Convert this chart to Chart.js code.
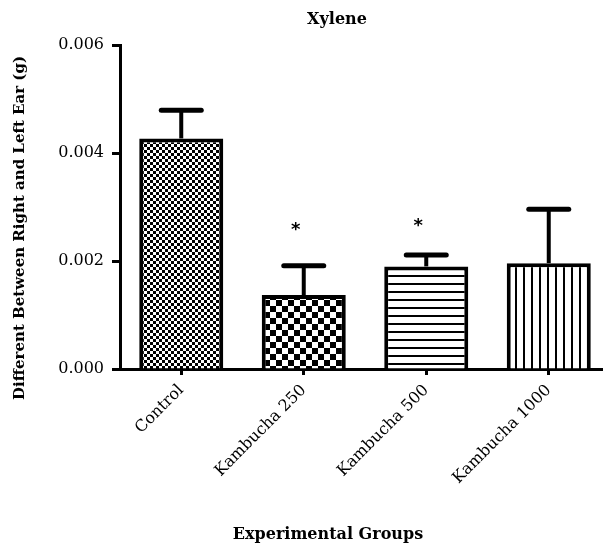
<!DOCTYPE html>
<html>
<head>
<meta charset="utf-8">
<script src="https://cdn.jsdelivr.net/npm/chart.js@4.4.0/dist/chart.umd.min.js"></script>
<style>
  html, body { margin: 0; padding: 0; background: #fff; overflow: hidden; }
  #wrap { width: 612px; height: 545px; }
</style>
</head>
<body>
<div id="wrap"><canvas id="chart" width="612" height="545"></canvas></div>
<script>
// data
const groups = ["Control", "Kambucha 250", "Kambucha 500", "Kambucha 1000"];
const means = [0.00427, 0.00137, 0.00190, 0.00196];
const errTops = [0.00479, 0.00191, 0.00211, 0.00296];
const starAt = [null, 0.00262, 0.00270, null];   // "*" marks
const yTicks = [0, 0.002, 0.004, 0.006];

const canvas = document.getElementById("chart");
const mainCtx = canvas.getContext("2d");

// hatch fills like the GraphPad bars
function makePattern(kind) {
    const c = document.createElement("canvas");
    const g = c.getContext("2d");
    if (kind === "fine") {
        c.width = c.height = 6;
        g.fillStyle = "#fff"; g.fillRect(0, 0, 6, 6);
        g.fillStyle = "#000"; g.fillRect(0, 0, 3, 3); g.fillRect(3, 3, 3, 3);
    } else if (kind === "coarse") {
        c.width = c.height = 12;
        g.fillStyle = "#fff"; g.fillRect(0, 0, 12, 12);
        g.fillStyle = "#000"; g.fillRect(0, 0, 6, 6); g.fillRect(6, 6, 6, 6);
    } else if (kind === "hlines") {
        c.width = 8; c.height = 8;
        g.fillStyle = "#fff"; g.fillRect(0, 0, 8, 8);
        g.fillStyle = "#000"; g.fillRect(0, 3, 8, 2);
    } else {
        c.width = 8; c.height = 8;
        g.fillStyle = "#fff"; g.fillRect(0, 0, 8, 8);
        g.fillStyle = "#000"; g.fillRect(3, 0, 2, 8);
    }
    return mainCtx.createPattern(c, "repeat");
}
const fills = [makePattern("fine"), makePattern("coarse"), makePattern("hlines"), makePattern("vlines")];

const serif = "'DejaVu Serif', serif";

// error bars (upper only) + significance stars
const errorBars = {
    id: "errorBars",
    afterDatasetsDraw(chart) {
        const ctx = chart.ctx;
        const y = chart.scales.y;
        const meta = chart.getDatasetMeta(0);
        ctx.save();
        ctx.strokeStyle = "#000";
        meta.data.forEach((bar, i) => {
            const top = y.getPixelForValue(errTops[i]);
            ctx.lineCap = "butt";
            ctx.lineWidth = 4;
            ctx.beginPath();
            ctx.moveTo(bar.x, bar.y);
            ctx.lineTo(bar.x, top);
            ctx.stroke();
            ctx.lineCap = "round";
            ctx.lineWidth = 5;
            ctx.beginPath();
            ctx.moveTo(bar.x - 20, top);
            ctx.lineTo(bar.x + 20, top);
            ctx.stroke();
            if (starAt[i] !== null) {
                ctx.fillStyle = "#000";
                ctx.font = "bold 18px 'DejaVu Sans'";
                ctx.textAlign = "center";
                ctx.textBaseline = "middle";
                ctx.fillText("*", bar.x - 8, y.getPixelForValue(starAt[i]) + 3);
            }
        });
        ctx.restore();
    }
};

// titles placed like the original figure
const titles = {
    id: "titles",
    afterDraw(chart) {
        const ctx = chart.ctx;
        ctx.save();
        ctx.fillStyle = "#000";
        ctx.textAlign = "center";
        ctx.textBaseline = "middle";
        ctx.font = "bold 16px " + serif;
        ctx.fillText("Xylene", 337, 20);
        ctx.fillText("Experimental Groups", 328, 535);
        ctx.font = "bold 15px " + serif;
        ctx.translate(20, 228);
        ctx.rotate(-Math.PI / 2);
        ctx.fillText("Different Between Right and Left Ear (g)", 0, 0);
        ctx.restore();
    }
};

new Chart(mainCtx, {
    type: "bar",
    data: {
        labels: groups,
        datasets: [{
            data: means,
            backgroundColor: fills,
            borderColor: "#000",
            borderWidth: 4,
            barPercentage: 0.686,
            categoryPercentage: 1
        }]
    },
    options: {
        responsive: false,
        animation: false,
        layout: { padding: { top: 45, right: 2, left: 0, bottom: 0 } },
        plugins: { legend: { display: false }, tooltip: { enabled: false } },
        scales: {
            x: {
                offset: true,
                grid: { offset: false, drawOnChartArea: false, drawTicks: true, tickLength: 6, tickWidth: 3, tickColor: "#000" },
                border: { display: true, color: "#000", width: 3 },
                ticks: {
                    color: "#000",
                    font: { family: serif, size: 16 },
                    minRotation: 45,
                    maxRotation: 45,
                    padding: 6
                },
                afterFit(scale) { scale.height = 176; }
            },
            y: {
                min: 0,
                max: 0.006,
                grid: { drawOnChartArea: false, drawTicks: true, tickLength: 8, tickWidth: 3, tickColor: "#000" },
                border: { display: true, color: "#000", width: 3 },
                afterBuildTicks(scale) { scale.ticks = yTicks.map(v => ({ value: v })); },
                ticks: {
                    color: "#000",
                    font: { family: serif, size: 16 },
                    padding: 8,
                    callback: v => Number(v).toFixed(3)
                },
                afterFit(scale) { scale.width = 120; }
            }
        }
    },
    plugins: [errorBars, titles]
});
</script>
</body>
</html>
